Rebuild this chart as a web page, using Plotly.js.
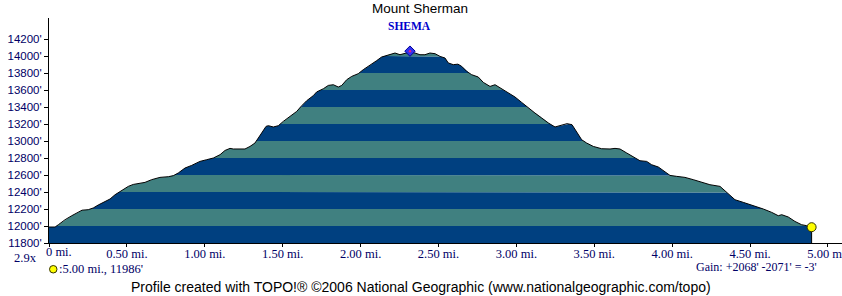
<!DOCTYPE html>
<html><head><meta charset="utf-8">
<script src="https://cdn.plot.ly/plotly-3.0.1.min.js"></script>
<style>html,body{margin:0;padding:0;background:#fff;overflow:hidden}</style>
</head><body><div id="chart" style="width:842px;height:296px"></div>
<script>
const distanceMi = [0.000,0.039,0.060,0.103,0.146,0.188,0.212,0.252,0.284,0.316,
0.359,0.392,0.424,0.467,0.509,0.541,0.584,0.616,0.659,0.712,
0.766,0.798,0.830,0.873,0.916,0.969,1.012,1.055,1.098,1.130,
1.162,1.183,1.258,1.290,1.322,1.343,1.365,1.393,1.408,1.440,
1.472,1.504,1.547,1.590,1.622,1.654,1.696,1.718,1.761,1.793,
1.825,1.857,1.879,1.911,1.943,1.985,2.017,2.060,2.103,2.135,
2.178,2.221,2.253,2.285,2.317,2.349,2.381,2.413,2.445,2.478,
2.510,2.542,2.563,2.595,2.625,2.649,2.681,2.713,2.755,2.788,
2.831,2.863,2.906,2.948,2.991,3.034,3.076,3.119,3.162,3.205,
3.248,3.291,3.325,3.357,3.387,3.419,3.451,3.494,3.547,3.601,
3.633,3.665,3.708,3.750,3.793,3.836,3.868,3.911,3.943,3.986,
4.029,4.082,4.135,4.178,4.242,4.307,4.350,4.403,4.456,4.521,
4.585,4.639,4.681,4.703,4.745,4.788,4.831,4.863,4.895];
const elevationFt = [11988,11988,12015,12074,12121,12160,12186,12192,12212,12247,
12282,12318,12368,12419,12466,12489,12498,12513,12545,12572,
12580,12592,12624,12682,12713,12760,12780,12800,12839,12889,
12913,12906,12906,12936,12976,13027,13094,13172,13180,13165,
13180,13231,13289,13348,13415,13474,13533,13577,13615,13654,
13662,13635,13654,13721,13760,13792,13839,13889,13945,13988,
14015,14035,14015,14027,14047,14035,14015,14015,14035,14027,
13995,13976,13918,13898,13904,13878,13819,13780,13753,13689,
13642,13662,13612,13565,13518,13454,13388,13329,13271,13212,
13165,13184,13204,13192,13101,13015,12976,12936,12909,12906,
12913,12906,12859,12812,12768,12760,12721,12694,12651,12595,
12584,12572,12545,12521,12486,12466,12395,12309,12278,12242,
12200,12160,12121,12133,12106,12054,12015,12004,11986];
const yTickVals = [11800,12000,12200,12400,12600,12800,13000,13200,13400,13600,13800,14000,14200];
const yTickText = ["11800'","12000'","12200'","12400'","12600'","12800'","13000'","13200'","13400'","13600'","13800'","14000'","14200'"];
const xTickVals = [0,0.5,1,1.5,2,2.5,3,3.5,4,4.5,5];
const xTickText = ["0 mi.","0.50 mi.","1.00 mi.","1.50 mi.","2.00 mi.","2.50 mi.","3.00 mi.","3.50 mi.","4.00 mi.","4.50 mi.","5.00 mi."];
const bandLevels = [11800,12000,12200,12400,12600,12800,13000,13200,13400,13600,13800,14000,14200,14400];
const peakName = "SHEMA";
const chartTitle = "Mount Sherman";
const endLabel = ":5.00 mi., 11986'";
const gainLabel = "Gain: +2068' -2071' = -3'";
const scaleLabel = "2.9x";
const footer = "Profile created with TOPO!® ©2006 National Geographic (www.nationalgeographic.com/topo)";

// ---- styling ----
const bandColors = ['#004080', '#408080'];
const navy = '#000066';
const serif = 'Liberation Serif, Times New Roman, serif';
const sans = 'Liberation Sans, Arial, sans-serif';
const yMin = 11800, yMax = 14447, xMax = 5.09;

// insert crossing points of band levels so clipped fills are exact
function densify(x, y, levels) {
  const X = [x[0]], Y = [y[0]];
  for (let i = 0; i < x.length - 1; i++) {
    const y0 = y[i], y1 = y[i + 1];
    const ts = [];
    for (const L of levels) if ((L - y0) * (L - y1) < 0) ts.push((L - y0) / (y1 - y0));
    ts.sort((a, b) => a - b);
    for (const t of ts) { X.push(x[i] + t * (x[i + 1] - x[i])); Y.push(y0 + t * (y1 - y0)); }
    X.push(x[i + 1]); Y.push(y1);
  }
  return {X, Y};
}
const d = densify(distanceMi, elevationFt, bandLevels);

const traces = [];
traces.push({x: d.X, y: d.X.map(() => bandLevels[0]), mode: 'lines', line: {width: 0, color: 'rgba(0,0,0,0)'}, hoverinfo: 'skip', showlegend: false});
for (let k = 0; k < bandLevels.length - 1; k++) {
  traces.push({x: d.X, y: d.Y.map(v => Math.min(v, bandLevels[k + 1])), mode: 'lines',
    fill: 'tonexty', fillcolor: bandColors[k % 2], line: {width: 0, color: 'rgba(0,0,0,0)'}, hoverinfo: 'skip', showlegend: false});
}
const n = distanceMi.length;
traces.push({x: distanceMi.concat([distanceMi[n - 1]]), y: elevationFt.concat([yMin]), mode: 'lines',
  line: {color: '#000000', width: 1}, showlegend: false});

let pk = 0; elevationFt.forEach((v, i) => { if (v > elevationFt[pk]) pk = i; });
traces.push({x: [distanceMi[pk]], y: [elevationFt[pk] + 10], mode: 'markers',
  marker: {symbol: 'diamond', size: 8, color: '#3333EE', line: {color: '#000099', width: 1}}, showlegend: false, cliponaxis: false});
traces.push({x: [distanceMi[pk]], y: [elevationFt[pk] + 10], mode: 'markers',
  marker: {symbol: 'circle', size: 2.5, color: '#E0208A', line: {width: 0}}, showlegend: false, cliponaxis: false});
traces.push({x: [distanceMi[n - 1]], y: [elevationFt[n - 1]], mode: 'markers',
  marker: {symbol: 'circle', size: 9, color: '#FFFF00', line: {color: '#333300', width: 1}}, showlegend: false, cliponaxis: false});

const W = 793, H = 225, L0 = 49, T0 = 18;
const px = x => (x - L0) / W, py = y => (T0 + H - y) / H;

const layout = {
  width: 842, height: 296, autosize: false,
  margin: {l: 49, r: 0, t: 18, b: 53, pad: 0},
  paper_bgcolor: '#ffffff', plot_bgcolor: '#ffffff',
  showlegend: false,
  xaxis: {range: [0, xMax], tickvals: xTickVals, ticktext: xTickText.map((t, i) => i === 0 ? '' : t),
    ticks: 'outside', ticklen: 3, tickcolor: '#000', showline: true, linecolor: '#000', linewidth: 1,
    showgrid: false, zeroline: false, fixedrange: true, ticklabelstandoff: -4, ticklabeloverflow: 'allow',
    tickfont: {family: serif, size: 12.5, color: navy}},
  yaxis: {range: [yMin, yMax], tickvals: yTickVals, ticktext: yTickText,
    ticks: 'outside', ticklen: 4, tickcolor: '#000', showline: true, linecolor: '#000', linewidth: 1,
    showgrid: false, zeroline: false, fixedrange: true,
    tickfont: {family: sans, size: 11.5, color: navy}},
  annotations: [
    {text: chartTitle, xref: 'paper', yref: 'paper', x: px(420), y: py(9), xanchor: 'center', yanchor: 'middle',
      showarrow: false, font: {family: sans, size: 13.5, color: '#000'}},
    {text: '<b>' + peakName + '</b>', xref: 'x', yref: 'paper', x: distanceMi[pk], y: py(25.5), xanchor: 'center', yanchor: 'middle',
      showarrow: false, font: {family: serif, size: 11.5, color: '#0000CC'}},
    {text: xTickText[0], xref: 'x', yref: 'paper', x: 0, y: py(252), xanchor: 'left', yanchor: 'middle', xshift: -5,
      showarrow: false, font: {family: serif, size: 12.5, color: navy}},
    {text: scaleLabel, xref: 'paper', yref: 'paper', x: px(38.5), y: py(258), xanchor: 'right', yanchor: 'middle',
      showarrow: false, font: {family: serif, size: 12.5, color: navy}},
    {text: endLabel, xref: 'paper', yref: 'paper', x: px(57), y: py(269), xanchor: 'left', yanchor: 'middle',
      showarrow: false, font: {family: serif, size: 12.5, color: navy}},
    {text: gainLabel, xref: 'paper', yref: 'paper', x: px(819), y: py(267), xanchor: 'right', yanchor: 'middle',
      showarrow: false, font: {family: serif, size: 12, color: navy}},
    {text: footer, xref: 'paper', yref: 'paper', x: px(420.5), y: py(287), xanchor: 'center', yanchor: 'middle',
      showarrow: false, font: {family: sans, size: 14, color: '#000'}}
  ],
  shapes: [
    {type: 'circle', xref: 'paper', yref: 'paper', x0: px(49.5), x1: px(57), y0: py(273), y1: py(265.5),
      fillcolor: '#FFFF00', line: {color: '#333300', width: 1}}
  ]
};
Plotly.newPlot('chart', traces, layout, {displayModeBar: false, staticPlot: true});
</script></body></html>
